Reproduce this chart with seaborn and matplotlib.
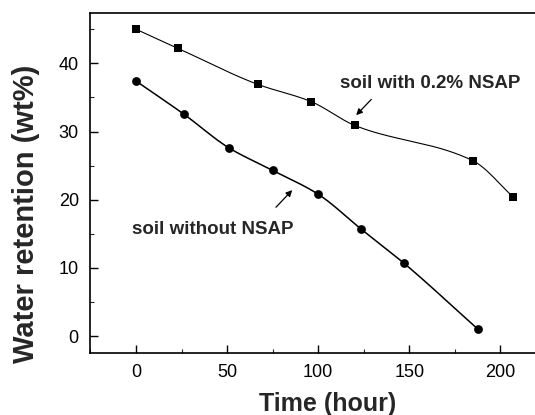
import numpy as np
import pandas as pd
import matplotlib
matplotlib.use("Agg")
import matplotlib.pyplot as plt
from matplotlib.ticker import MultipleLocator
import seaborn as sns

# Water retention over time
time_nsap = [0, 23, 67, 96, 120, 185, 207]
ret_nsap = [45.0, 42.2, 36.9, 34.4, 30.9, 25.7, 20.4]

time_soil = [0, 26.5, 51, 75, 100, 123.5, 147, 187.7]
ret_soil = [37.4, 32.5, 27.6, 24.3, 20.8, 15.7, 10.7, 1.0]

x_ticks = [0, 50, 100, 150, 200]
y_ticks = [0, 10, 20, 30, 40]


def pchip(x, y, n=300):
    """Monotone piecewise cubic (Fritsch-Carlson) through (x, y)."""
    x = np.asarray(x, float)
    y = np.asarray(y, float)
    h = np.diff(x)
    d = np.diff(y) / h
    m = np.zeros_like(y)
    m[0], m[-1] = d[0], d[-1]
    for i in range(1, len(x) - 1):
        if d[i - 1] * d[i] > 0:
            w1 = 2 * h[i] + h[i - 1]
            w2 = h[i] + 2 * h[i - 1]
            m[i] = (w1 + w2) / (w1 / d[i - 1] + w2 / d[i])
    xs = np.linspace(x[0], x[-1], n)
    idx = np.clip(np.searchsorted(x, xs) - 1, 0, len(x) - 2)
    t = (xs - x[idx]) / h[idx]
    h00 = 2 * t ** 3 - 3 * t ** 2 + 1
    h10 = t ** 3 - 2 * t ** 2 + t
    h01 = -2 * t ** 3 + 3 * t ** 2
    h11 = t ** 3 - t ** 2
    ys = h00 * y[idx] + h10 * h[idx] * m[idx] + h01 * y[idx + 1] + h11 * h[idx] * m[idx + 1]
    return xs, ys


sns.set_theme(style="ticks")
plt.rcParams["font.family"] = ["Liberation Sans", "DejaVu Sans"]

fig = plt.figure(figsize=(5.35, 4.15), dpi=100)
ax = fig.add_axes([0.168, 0.150, 0.832, 0.819])

sx, sy = pchip(time_nsap, ret_nsap)
cx, cy = pchip(time_soil, ret_soil)
sns.lineplot(x=sx, y=sy, ax=ax, color="black", lw=0.8, sort=False, estimator=None)
sns.lineplot(x=cx, y=cy, ax=ax, color="black", lw=1.1, sort=False, estimator=None)

pts = pd.DataFrame({"t": time_nsap, "r": ret_nsap})
sns.scatterplot(data=pts, x="t", y="r", ax=ax, marker="s", s=36,
                color="black", edgecolor="black", linewidth=0, zorder=3)
pts2 = pd.DataFrame({"t": time_soil, "r": ret_soil})
sns.scatterplot(data=pts2, x="t", y="r", ax=ax, marker="o", s=40,
                color="black", edgecolor="black", linewidth=0, zorder=3)

ax.set_xlim(-25.3, 219)
ax.set_ylim(-2.45, 47.4)
ax.set_xticks(x_ticks)
ax.set_yticks(y_ticks)
ax.xaxis.set_minor_locator(MultipleLocator(25))
ax.yaxis.set_minor_locator(MultipleLocator(5))
ax.tick_params(which="major", direction="in", length=6, width=1.0,
               labelsize=13, pad=8, colors="black")
ax.tick_params(which="minor", direction="in", length=3, width=0.8)
ax.tick_params(top=False, right=False)

for side in ("left", "bottom", "top"):
    ax.spines[side].set_linewidth(1.2)
    ax.spines[side].set_color("black")
ax.spines["right"].set_visible(False)

ax.set_xlabel("Time (hour)", fontsize=18, fontweight="bold")
ax.set_ylabel("Water retention (wt%)", fontsize=21, fontweight="bold")
ax.xaxis.set_label_coords(0.533, -0.116)
ax.yaxis.set_label_coords(-0.112, 0.409)

ax.text(161.3, 37.1, "soil with 0.2% NSAP", fontsize=13.5, fontweight="bold",
        ha="center", va="center")
ax.text(42.3, 15.7, "soil without NSAP", fontsize=13.5, fontweight="bold",
        ha="center", va="center")

arrow = dict(arrowstyle="-|>", color="black", lw=0.9, mutation_scale=9)
ax.annotate("", xy=(119.8, 32.1), xytext=(130.2, 35.0), arrowprops=arrow)
ax.annotate("", xy=(86.8, 21.7), xytext=(75.8, 18.6), arrowprops=arrow)

fig.savefig("out.png", dpi=100)
